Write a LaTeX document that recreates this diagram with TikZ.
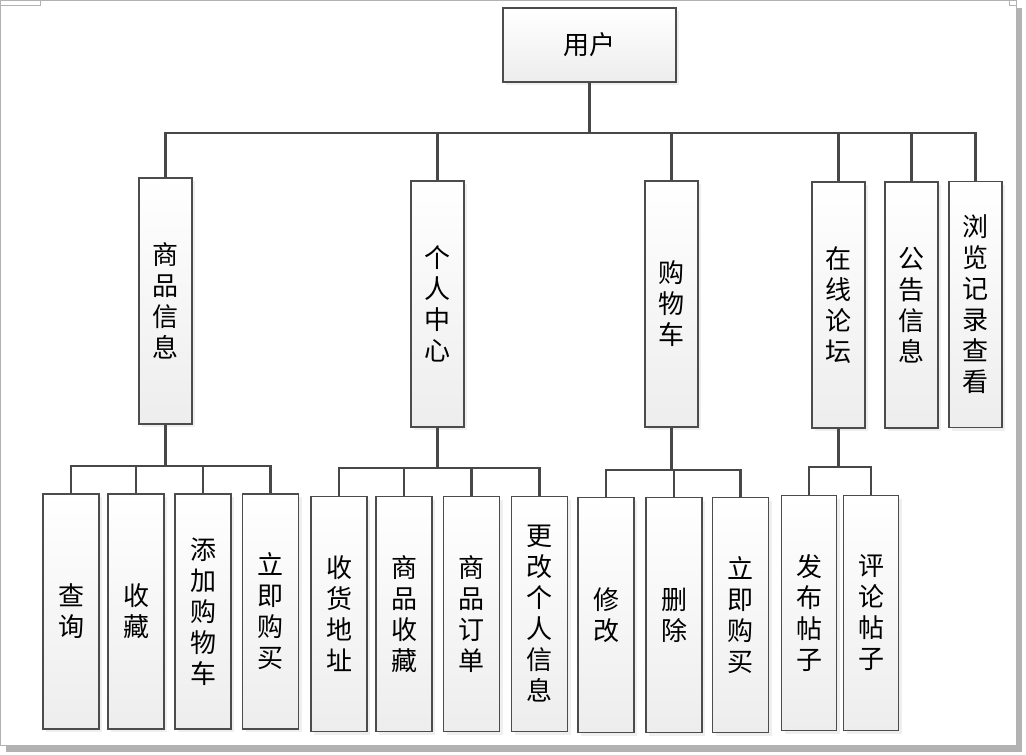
\documentclass[tikz,border=0pt]{standalone}
\usepackage{fontspec}
\newfontfamily\cjk{Noto Sans CJK SC}
\usetikzlibrary{shadows}

\begin{document}
\begin{tikzpicture}[x = 1pt, y = -1pt, % one unit per pixel, y downwards
                line width = 2.2pt, draw = black!72 % connector style
            ]

            \tikzset{every node/.style={draw = black!70, line width = 1.1pt,
            top color = white, bottom color = black!7, inner sep = 0pt,
            align = center, font = \cjk\fontsize{26}{31}\selectfont,
            drop shadow = {shadow xshift = 3pt, shadow yshift = -3pt,
            fill = black!12, draw = none}},
            mid/.style = {minimum width = 53pt, minimum height = 246pt},
            leaf/.style = {minimum width = 56pt, minimum height = 235pt}}

            \useasboundingbox (0,0) rectangle (1026,755);
            % page frame and crop marks
            \fill[black!30] (1016,8) rectangle (1022,752);
            \fill[black!30] (6,745) rectangle (1022,752);
            \draw[black!30, line width = 1pt] (0.5,745) -- (0.5,0.5) -- (1016,0.5) -- (1016,745) -- cycle;
            \draw[black!30, line width = 1pt] (0.5,5) -- (40,5) -- (40,0.5);
            \draw[black!30, line width = 1pt] (1009,0.5) -- (1009,5) -- (1016,5);

            \node[minimum width = 173pt, minimum height = 74pt] (user) at (589.5,45) {用户};

            \node[mid] (goods) at (165.5,301) {商\\品\\信\\息};
            \node[mid] (center) at (437.5,304) {个\\人\\中\\心};
            \node[mid] (cart) at (671.5,304) {购\\物\\车};
            \node[mid] (forum) at (838.5,305) {在\\线\\论\\坛};
            \node[mid] (notice) at (911.5,305) {公\\告\\信\\息};
            \node[mid] (history) at (975.5,304.5) {浏\\览\\记\\录\\查\\看};

            \node[leaf] (query) at (71,611.5) {查\\询};
            \node[leaf] (fav) at (136,611.5) {收\\藏};
            \node[leaf] (addcart) at (203,611.5) {添\\加\\购\\物\\车};
            \node[leaf] (buy) at (270.5,611.5) {立\\即\\购\\买};

            \node[leaf] (addr) at (339,614) {收\\货\\地\\址};
            \node[leaf] (favlist) at (404,614) {商\\品\\收\\藏};
            \node[leaf] (order) at (471.5,614) {商\\品\\订\\单};
            \node[leaf] (info) at (539.5,614) {更\\改\\个\\人\\信\\息};

            \node[leaf] (edit) at (606,615) {修\\改};
            \node[leaf] (del) at (674,615) {删\\除};
            \node[leaf] (cartbuy) at (740.5,615) {立\\即\\购\\买};

            \node[leaf, minimum width = 55pt] (post) at (809,613) {发\\布\\帖\\子};
            \node[leaf, minimum width = 55pt] (reply) at (871,613) {评\\论\\帖\\子};

            % tree connectors: parent down to bus, along bus, down to child
            \foreach \p/\y/\kids in {user/133/{goods,center,cart,forum,notice,history},
                goods/466/{query,fav,addcart,buy},
                center/468/{addr,favlist,order,info},
                cart/470/{edit,del,cartbuy},
                forum/467/{post,reply}}
            {
                \foreach \c in \kids
                    \draw (\p.south) -- (\p.south |- 0,\y) -| (\c.north);
            }
        \end{tikzpicture}
\end{document}
